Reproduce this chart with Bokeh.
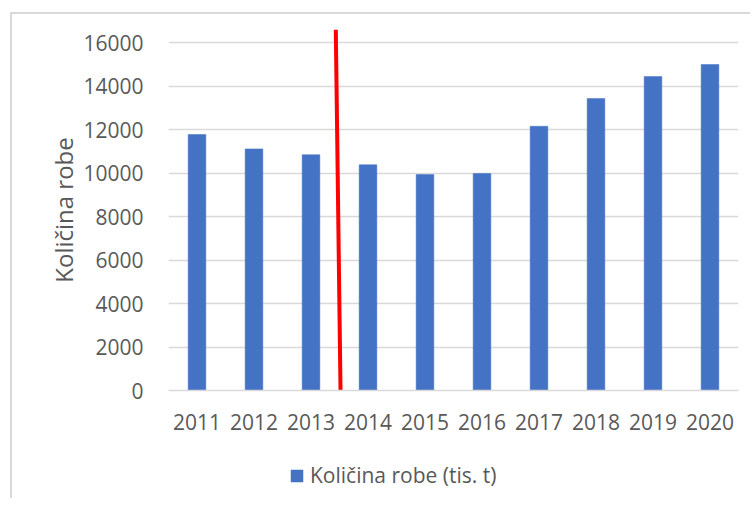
from bokeh.plotting import figure
from bokeh.layouts import column
from bokeh.models import ColumnDataSource, Range1d, FixedTicker, Legend, LegendItem
from bokeh.embed import file_html
from bokeh.resources import INLINE

years = [2011, 2012, 2013, 2014, 2015, 2016, 2017, 2018, 2019, 2020]
kolicina = [11770, 11110, 10840, 10380, 9930, 9980, 12150, 13430, 14440, 14990]
y_ticks = [0, 2000, 4000, 6000, 8000, 10000, 12000, 14000, 16000]
red_line_x = [2013.435, 2013.518]
red_line_y = [16600, 0]
series_label = "Količina robe (tis. t)"
y_label = "Količina robe"

FONT = "Open Sans"
GRAY = "#595959"
BLUE = "#4472C4"

p = figure(width=740, height=436, output_backend="svg", toolbar_location=None,
           x_range=Range1d(2010.5, 2020.5), y_range=Range1d(0, 16600),
           min_border_left=156, min_border_right=14, min_border_top=15,
           min_border_bottom=60)
p.outline_line_color = None
p.background_fill_color = "white"
p.border_fill_color = "white"

src = ColumnDataSource(dict(x=years, top=kolicina))
bars = p.vbar(x="x", top="top", width=0.31, bottom=0, source=src,
              fill_color=BLUE, line_color=BLUE, line_width=0.5)

p.line(red_line_x, red_line_y, line_color="#FF0000", line_width=4)

p.xgrid.grid_line_color = None
p.ygrid.grid_line_color = "#d9d9d9"
p.ygrid.grid_line_width = 1.5
p.yaxis.ticker = FixedTicker(ticks=y_ticks)
p.xaxis.ticker = FixedTicker(ticks=years)

for ax in (p.xaxis[0], p.yaxis[0]):
    ax.major_tick_line_color = None
    ax.minor_tick_line_color = None
    ax.major_label_text_font = FONT
    ax.major_label_text_font_size = "21px"
    ax.major_label_text_color = GRAY
p.yaxis.axis_line_color = None
p.xaxis.axis_line_color = "#d9d9d9"
p.xaxis.axis_line_width = 1.5
p.yaxis.major_label_standoff = 19
p.xaxis.major_label_standoff = 17
p.yaxis.axis_label = y_label
p.yaxis.axis_label_text_font = FONT
p.yaxis.axis_label_text_font_size = "24px"
p.yaxis.axis_label_text_font_style = "normal"
p.yaxis.axis_label_text_color = GRAY
p.yaxis.axis_label_standoff = 0

# legend strip below the chart (its frame is aligned with the main frame);
# its ranges keep the key renderer's bars out of view
p2 = figure(width=740, height=50, output_backend="svg", toolbar_location=None,
            x_range=Range1d(2010.5, 2020.5), y_range=Range1d(20000, 30000),
            min_border_left=0, min_border_right=0, min_border_top=0,
            min_border_bottom=0)
p2.axis.visible = False
p2.grid.visible = False
p2.outline_line_color = None
p2.border_fill_color = "white"
key = p2.vbar(x="x", top="top", width=0.31, bottom=0, source=src,
              fill_color=BLUE, line_color=BLUE, line_width=0.5)
legend = Legend(items=[LegendItem(label=series_label, renderers=[key])],
                location=(121, 11), orientation="horizontal",
                padding=0, margin=0, spacing=0,
                glyph_width=15, glyph_height=15, label_standoff=6,
                label_text_font=FONT, label_text_font_size="21px",
                label_text_color=GRAY, border_line_color=None,
                background_fill_alpha=0)
p2.add_layout(legend)

layout = column(p, p2, spacing=0)
layout.styles = {"margin-left": "12px", "margin-top": "14px",
                 "box-shadow": "-2px -2px 0px 0px #d9d9d9"}

open("out.html", "w").write(file_html(layout, INLINE))
